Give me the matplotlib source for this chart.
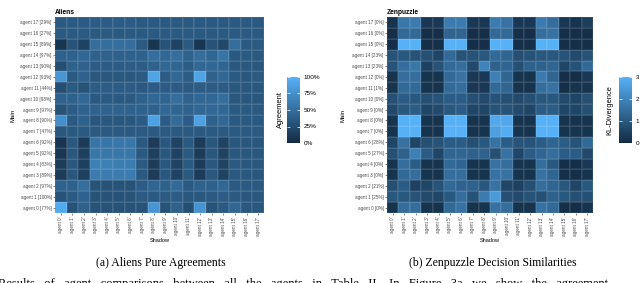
import numpy as np
import matplotlib
matplotlib.use('Agg')
import matplotlib.pyplot as plt
from matplotlib.colors import LinearSegmentedColormap
from matplotlib.ticker import FuncFormatter

# ============================================================
# Data (rows = main agent 0..17, columns = shadow agent 0..17)
# ============================================================
agents = list(range(18))
aliens_pct = [77, 100, 97, 89, 83, 92, 92, 47, 90, 97, 98, 44, 93, 90, 97, 89, 27, 29]
zen_pct = [0, 25, 21, 0, 0, 27, 28, 0, 0, 0, 0, 1, 0, 23, 23, 0, 0, 0]

# pure agreement in percent
aliens = [
    [95, 30, 40, 30, 30, 30, 30, 30, 80, 30, 40, 26, 78, 30, 35, 45, 33, 33],
    [30, 36, 40, 30, 30, 30, 30, 35, 35, 35, 37, 33, 33, 35, 37, 35, 33, 33],
    [40, 40, 50, 30, 30, 30, 30, 37, 43, 40, 47, 35, 40, 40, 45, 35, 35, 35],
    [13, 33, 16, 60, 60, 60, 60, 35, 13, 33, 18, 35, 13, 33, 18, 35, 33, 33],
    [13, 33, 16, 63, 63, 61, 61, 35, 13, 33, 18, 35, 13, 33, 18, 35, 33, 33],
    [10, 33, 16, 57, 57, 57, 57, 35, 16, 33, 18, 35, 13, 33, 18, 33, 33, 33],
    [8, 33, 13, 55, 55, 57, 57, 35, 13, 33, 18, 35, 13, 33, 18, 33, 33, 33],
    [33, 35, 35, 35, 35, 35, 35, 35, 35, 35, 35, 35, 35, 35, 35, 35, 35, 35],
    [75, 35, 40, 33, 33, 33, 33, 37, 88, 37, 47, 37, 88, 40, 45, 35, 35, 35],
    [30, 37, 40, 40, 40, 40, 40, 40, 40, 45, 43, 40, 45, 45, 45, 35, 35, 35],
    [40, 40, 45, 35, 35, 35, 35, 40, 45, 43, 50, 40, 45, 45, 50, 33, 33, 33],
    [26, 35, 30, 37, 37, 37, 37, 35, 37, 37, 37, 35, 37, 37, 37, 33, 33, 33],
    [80, 35, 40, 33, 33, 33, 33, 35, 90, 37, 45, 37, 90, 40, 45, 35, 33, 35],
    [26, 40, 40, 37, 37, 37, 37, 37, 40, 45, 43, 37, 45, 45, 43, 33, 33, 33],
    [40, 40, 45, 40, 40, 40, 40, 40, 50, 45, 50, 40, 50, 45, 55, 35, 35, 35],
    [8, 30, 17, 50, 50, 50, 50, 35, 8, 30, 17, 35, 8, 30, 22, 50, 35, 35],
    [35, 35, 35, 35, 35, 35, 35, 35, 35, 35, 35, 35, 35, 35, 35, 35, 35, 35],
    [35, 35, 36, 37, 37, 37, 37, 35, 35, 35, 35, 35, 35, 35, 35, 35, 35, 35],
]

# KL-divergence of decisions
zen = [
    [0.2, 1.5, 1.5, 0.2, 0.2, 1.4, 1.6, 0.2, 0.2, 1.6, 1.5, 0.2, 0.2, 1.6, 1.4, 0.1, 0.1, 0.2],
    [1.0, 1.0, 0.9, 0.7, 0.6, 1.0, 1.5, 0.9, 1.8, 2.5, 0.8, 0.7, 0.9, 0.8, 1.2, 1.0, 0.8, 0.8],
    [0.8, 1.1, 0.5, 0.6, 0.9, 1.4, 1.2, 1.2, 1.0, 1.6, 0.6, 0.5, 0.8, 1.5, 1.3, 1.0, 0.6, 1.0],
    [0.2, 1.4, 1.5, 0.2, 0.2, 1.5, 1.5, 0.2, 0.2, 1.6, 1.6, 0.2, 0.2, 1.6, 1.3, 0.1, 0.1, 0.2],
    [0.2, 1.5, 1.1, 0.2, 0.2, 1.4, 1.3, 0.2, 0.2, 1.6, 1.5, 0.2, 0.2, 1.5, 1.0, 0.1, 0.1, 0.3],
    [0.8, 1.2, 1.9, 1.1, 0.6, 1.3, 1.3, 1.2, 1.2, 0.8, 1.6, 0.6, 1.1, 1.3, 1.5, 1.1, 1.1, 0.7],
    [0.6, 1.6, 0.6, 0.8, 0.9, 1.1, 1.1, 0.8, 1.0, 1.6, 1.1, 0.9, 0.9, 1.1, 1.3, 1.1, 0.9, 1.4],
    [0.2, 3.0, 3.0, 0.2, 0.2, 3.0, 3.0, 0.2, 0.2, 2.6, 2.9, 0.2, 0.2, 3.0, 3.0, 0.2, 0.2, 0.2],
    [0.2, 3.0, 3.0, 0.2, 0.2, 3.0, 3.0, 0.2, 0.2, 2.8, 2.8, 0.2, 0.2, 3.0, 3.0, 0.2, 0.2, 0.2],
    [0.7, 1.0, 1.1, 0.6, 0.7, 1.0, 1.1, 0.6, 0.6, 0.9, 0.9, 0.7, 0.6, 1.1, 1.1, 0.6, 0.6, 0.8],
    [0.8, 1.1, 1.0, 0.8, 0.9, 1.1, 1.1, 0.8, 0.7, 0.9, 0.8, 0.7, 0.8, 1.0, 1.0, 0.7, 0.6, 0.8],
    [0.2, 1.4, 1.4, 0.2, 0.2, 1.4, 1.5, 0.3, 0.3, 1.4, 1.3, 0.2, 0.2, 1.5, 1.6, 0.1, 0.2, 0.2],
    [0.2, 1.5, 1.5, 0.2, 0.2, 1.4, 1.6, 0.3, 0.3, 1.9, 1.3, 0.2, 0.2, 1.8, 1.3, 0.1, 0.1, 0.3],
    [0.9, 1.5, 1.7, 0.5, 0.9, 1.4, 1.5, 0.7, 2.0, 1.2, 1.3, 0.8, 1.2, 1.2, 1.3, 0.6, 0.9, 1.4],
    [0.9, 1.0, 0.9, 0.8, 0.6, 1.4, 0.9, 0.9, 1.0, 1.4, 1.3, 0.8, 0.9, 1.0, 1.0, 0.9, 0.7, 0.9],
    [0.1, 3.0, 3.0, 0.1, 0.1, 3.0, 3.0, 0.1, 0.1, 3.0, 3.0, 0.1, 0.1, 3.0, 3.0, 0.1, 0.1, 0.1],
    [0.1, 1.4, 1.4, 0.1, 0.1, 1.3, 1.3, 0.1, 0.1, 1.4, 1.4, 0.1, 0.1, 1.5, 1.6, 0.1, 0.1, 0.1],
    [0.2, 1.7, 1.8, 0.3, 0.3, 1.8, 1.8, 0.3, 0.3, 1.8, 1.6, 0.3, 0.3, 1.8, 1.5, 0.3, 0.2, 0.4],
]

caption_a = '(a) Aliens Pure Agreements'
caption_b = '(b) Zenpuzzle Decision Similarities'
body_words = ['Results', 'of', 'agent', 'comparisons', 'between', 'all', 'the', 'agents',
              'in', 'Table', 'II.', 'In', 'Figure', '3a', 'we', 'show', 'the', 'agreement']

# ============================================================
# Styling
# ============================================================
W, H = 640, 283
SANS = ['Liberation Sans', 'DejaVu Sans']
SERIF = ['Liberation Serif', 'DejaVu Serif']
plt.rcParams['font.family'] = SANS

# ggplot2 default continuous scale
cmap = LinearSegmentedColormap.from_list('gg', ['#132B43', '#56B1F7'])


def px_rect(x0, y0, x1, y1):
    """Pixel box (top-left origin) -> figure fraction rect."""
    return [x0 / W, (H - y1) / H, (x1 - x0) / W, (y1 - y0) / H]


def draw_heatmap(ax, data, vmax, ylabels, title):
    mesh = ax.pcolormesh(np.array(data, dtype=float), cmap=cmap, vmin=0, vmax=vmax,
                         edgecolors=(1, 1, 1, 0.07), linewidth=0.3)
    ax.set_xlim(0, len(agents))
    ax.set_ylim(0, len(agents))
    ax.set_xticks(np.arange(len(agents)) + 0.5)
    ax.set_xticklabels([f"agent {a}'" for a in agents], rotation=90)
    ax.set_yticks(np.arange(len(agents)) + 0.5)
    ax.set_yticklabels(ylabels)
    ax.tick_params(length=1.5, width=0.4, color='#333333', labelsize=3.3,
                   labelcolor='#4d4d4d', pad=1)
    for s in ax.spines.values():
        s.set_visible(False)
    ax.set_title(title, loc='left', fontsize=4.8, fontweight='bold', pad=2)
    ax.set_xlabel('Shadow', fontsize=4)
    ax.set_ylabel('Main', fontsize=4.3)
    return mesh


def draw_colorbar(fig, mesh, rect, ticks, fmt, label, label_x):
    cax = fig.add_axes(px_rect(*rect))
    cb = fig.colorbar(mesh, cax=cax, ticks=ticks)
    cb.outline.set_visible(False)
    cb.ax.yaxis.set_major_formatter(FuncFormatter(fmt))
    cb.ax.tick_params(direction='in', length=2.5, width=0.5, color='white',
                      left=True, right=True, labelsize=4.6, pad=2.5)
    fig.text(label_x / W, 1 - (rect[1] + rect[3]) / 2 / H, label, rotation=90,
             ha='center', va='center', fontsize=5.4)


# ============================================================
# Figure
# ============================================================
fig = plt.figure(figsize=(W / 100, H / 100), dpi=100)

ax1 = fig.add_axes(px_rect(55, 17, 264, 213))
m1 = draw_heatmap(ax1, aliens, 100,
                  [f'agent {a} [{p}%]' for a, p in zip(agents, aliens_pct)], 'Aliens')
ax1.xaxis.set_label_coords(0.5, -0.125)
ax1.yaxis.set_label_coords(-0.19, 0.5)
draw_colorbar(fig, m1, (287, 77, 300, 143), [0, 25, 50, 75, 100],
              lambda v, p: f'{v:.0f}%', 'Agreement', 280)

ax2 = fig.add_axes(px_rect(387, 17, 593, 213))
m2 = draw_heatmap(ax2, zen, 3.0,
                  [f'agent {a} [{p}%]' for a, p in zip(agents, zen_pct)], 'Zenpuzzle')
ax2.xaxis.set_label_coords(0.5, -0.125)
ax2.yaxis.set_label_coords(-0.2, 0.5)
draw_colorbar(fig, m2, (619, 77, 632, 143), [0, 1, 2, 3],
              lambda v, p: f'{v:.0f}', 'KL-Divergence', 610)

# captions and the cut-off paper text below
fig.text(161 / W, 1 - 263 / H, caption_a, ha='center', va='center',
         fontsize=8.5, family=SERIF)
fig.text(493 / W, 1 - 263 / H, caption_b, ha='center', va='center',
         fontsize=8.5, family=SERIF)
fig.text(-2 / W, 1 - 278.5 / H, '   '.join(body_words), ha='left', va='top',
         fontsize=9, family=SERIF)

fig.savefig('out.png', dpi=100)
